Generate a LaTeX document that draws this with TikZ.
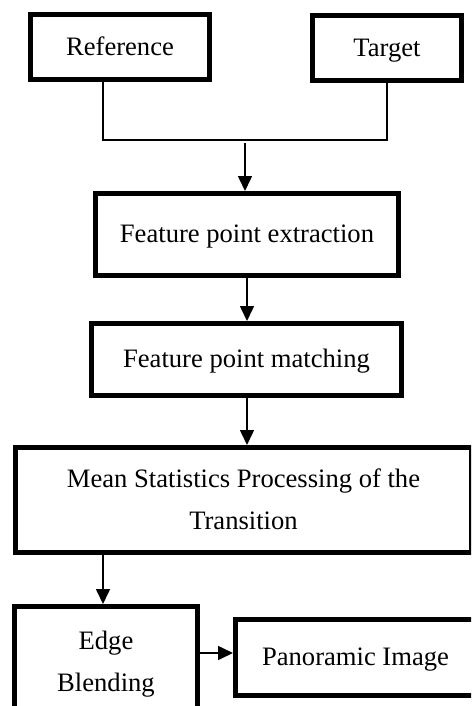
\documentclass[tikz,border=0pt]{standalone}
\usepackage{fontspec}
\setmainfont{Liberation Serif}
\usepackage{tikz}
\usetikzlibrary{positioning, calc, arrows.meta}

\begin{document}
\begin{tikzpicture}[x=1pt, y=-1pt,
    stagebox/.style={draw=black, line width=5pt, fill=white, inner sep=0pt,
                     align=center, font=\fontsize{26.6}{42}\selectfont},
    link/.style={draw=black, line width=1.6pt},
    flow/.style={link, -{Triangle[length=15pt, width=14pt]}}]
        \useasboundingbox (0,0) rectangle (471,706);
        \clip (0,0) rectangle (471,706);
        % inputs
        \node[stagebox, minimum width=179pt, minimum height=65pt] (ref) at (120,47) {\strut Reference};
        \node[stagebox, minimum width=149pt, minimum height=65pt] (tgt) at (387,48) {\strut Target};
        % pipeline
        \node[stagebox, minimum width=303pt, minimum height=82pt] (extract) at (247,234.5) {\strut Feature point extraction};
        \node[stagebox, minimum width=310pt, minimum height=72pt] (match) at (246.5,359.5) {\strut Feature point matching};
        \node[stagebox, minimum width=456pt, minimum height=105pt] (mean) at (243.5,500) {\strut Mean Statistics Processing of the\\\strut Transition};
        \node[stagebox, minimum width=183pt, minimum height=111pt] (blend) at (106,662) {\strut Edge\\\strut Blending};
        \node[stagebox, minimum width=240pt, minimum height=76pt] (pano) at (355.5,657.5) {\strut Panoramic Image};
        % joining the two inputs
        \coordinate (joinL) at (103,140);
        \coordinate (joinR) at (387,140);
        \coordinate (joinM) at (245,143);
        \draw[link] (ref.south -| joinL) -- (joinL) -- (joinR) -- (tgt.south -| joinR);
        \draw[flow] (joinM) -- (extract.north -| joinM);
        \draw[flow] (extract.south -| 247,0) -- (match.north -| 247,0);
        \draw[flow] (match.south -| 247,0) -- (mean.north -| 247,0);
        \draw[flow] (mean.south -| 103,0) -- (blend.north -| 103,0);
        \draw[flow] (blend.east |- 0,653) -- (pano.west |- 0,653);
      \end{tikzpicture}
\end{document}
